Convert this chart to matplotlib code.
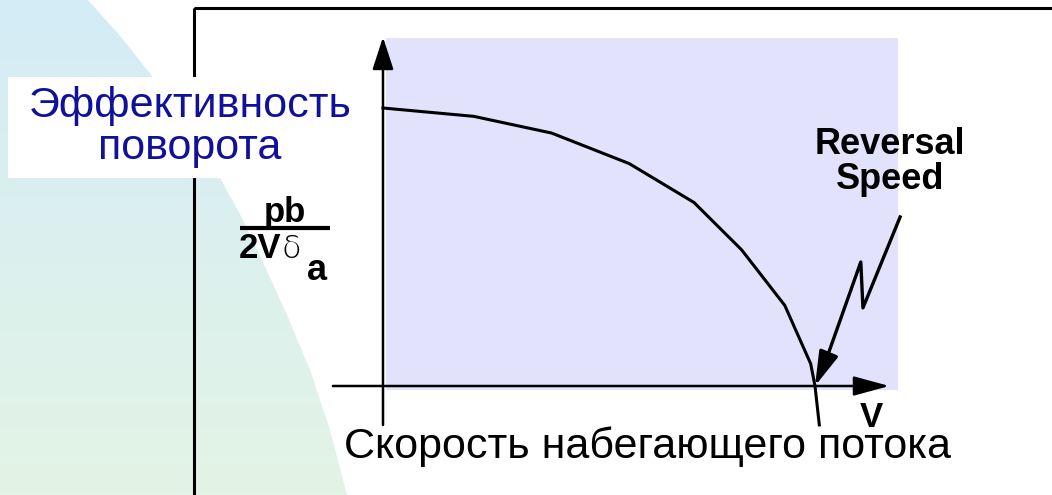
import numpy as np
import matplotlib
matplotlib.use('Agg')
import matplotlib.pyplot as plt
from matplotlib.patches import Rectangle, Polygon

plt.rcParams['font.family'] = ['Liberation Sans', 'DejaVu Sans']

# roll effectiveness vs airspeed (reversal at V = 1)
speed = [0.0, 0.21, 0.39, 0.57, 0.72, 0.83, 0.93, 0.99, 1.0, 1.01]
effectiveness = [1.0, 0.97, 0.91, 0.80, 0.66, 0.49, 0.29, 0.08, 0.0, -0.14]

# "lightning" pointer to the reversal speed
bolt_v = [1.197, 1.111, 1.106, 1.028]
bolt_e = [0.608, 0.281, 0.446, 0.104]
reversal_v = 1.0

title_ru = 'Эффективность\nповорота'
xlabel_ru = 'Скорость набегающего потока'
note_en = 'Reversal\nSpeed'

W, H = 1052, 495
fig = plt.figure(figsize=(W / 100, H / 100), dpi=100)

# slide background, pixel coordinates
bg = fig.add_axes([0, 0, 1, 1])
bg.set_xlim(0, W)
bg.set_ylim(H, 0)
bg.axis('off')

edge = [(0, 0), (88, 0), (122, 38), (155, 80), (188, 128), (220, 178),
        (242, 218), (262, 260), (287, 315), (310, 370), (330, 430), (347, 495), (0, 495)]
shape = Polygon(edge, closed=True, facecolor='none', edgecolor='none')
bg.add_patch(shape)
top = np.array([212, 236, 246]) / 255
bot = np.array([227, 244, 230]) / 255
t = np.linspace(0, 1, 256)[:, None, None]
grad = top * (1 - t) + bot * t
grad = np.repeat(grad, 2, axis=1)
im = bg.imshow(grad, extent=[0, W, H, 0], aspect='auto', zorder=0)
im.set_clip_path(shape)

bg.add_patch(Rectangle((194, 8), 1000, 600, facecolor='none', edgecolor='black',
                       lw=2.2, zorder=1))
bg.add_patch(Rectangle((8, 77), 364, 101, facecolor='white', edgecolor='none', zorder=2))
bg.text(190, 127, title_ru, ha='center', va='center', fontsize=31, color='#10109A',
        linespacing=1.05, zorder=3)

# y-axis label as a fraction
bg.text(285, 222, 'pb', ha='center', va='baseline', fontsize=25, fontweight='bold', zorder=3)
bg.plot([240, 330], [227.5, 227.5], color='black', lw=3, solid_capstyle='butt', zorder=3)
bg.text(239, 258, '2V', ha='left', va='baseline', fontsize=25, fontweight='bold', zorder=3)
bg.text(281, 258, 'δ', ha='left', va='baseline', fontsize=23, family='DejaVu Sans',
        fontweight='light', zorder=3)
bg.text(307, 280, 'a', ha='left', va='baseline', fontsize=26, fontweight='bold', zorder=3)

# chart axes, data coordinates
ax = fig.add_axes([0, 0, 1, 1])
ax.set_xlim(-383 / 432, (W - 383) / 432)
ax.set_ylim((386 - H) / 278, 386 / 278)
ax.axis('off')
ax.patch.set_alpha(0)

ax.add_patch(Rectangle((0.007, -0.014), 1.185, 1.266, facecolor='#E2E2FC',
                       edgecolor='none', zorder=1))

ax.annotate('', xy=(0, 1.255), xytext=(0, -0.14),
            arrowprops=dict(arrowstyle='-|>,head_length=2.0,head_width=0.65', mutation_scale=10,
                            lw=1.8, color='black', shrinkA=0, shrinkB=0), zorder=3)
ax.annotate('', xy=(1.172, 0), xytext=(-0.116, 0),
            arrowprops=dict(arrowstyle='-|>,head_length=2.2,head_width=0.6', mutation_scale=10,
                            lw=1.8, color='black', shrinkA=0, shrinkB=0), zorder=3)

ax.plot(speed, effectiveness, color='black', lw=2.2, solid_joinstyle='round', zorder=4)

ax.plot(bolt_v, bolt_e, color='black', lw=2.4, zorder=4)
ax.annotate('', xy=(reversal_v, 0), xytext=(bolt_v[-1], bolt_e[-1]),
            arrowprops=dict(arrowstyle='-|>,head_length=2.1,head_width=0.6', mutation_scale=10,
                            lw=2.4, color='black', shrinkA=0, shrinkB=0), zorder=4)

# texts drawn on top of the chart, placed in slide pixels
px = bg.transData
ax.text(890, 162, note_en, transform=px, ha='center', va='center', fontsize=26,
        fontweight='bold', linespacing=0.98, zorder=5)
ax.text(871, 427, 'V', transform=px, ha='center', va='baseline', fontsize=25,
        fontweight='bold', zorder=5)
ax.text(648, 447, xlabel_ru, transform=px, ha='center', va='center', fontsize=31, zorder=5)

fig.savefig('out.png', dpi=100)
